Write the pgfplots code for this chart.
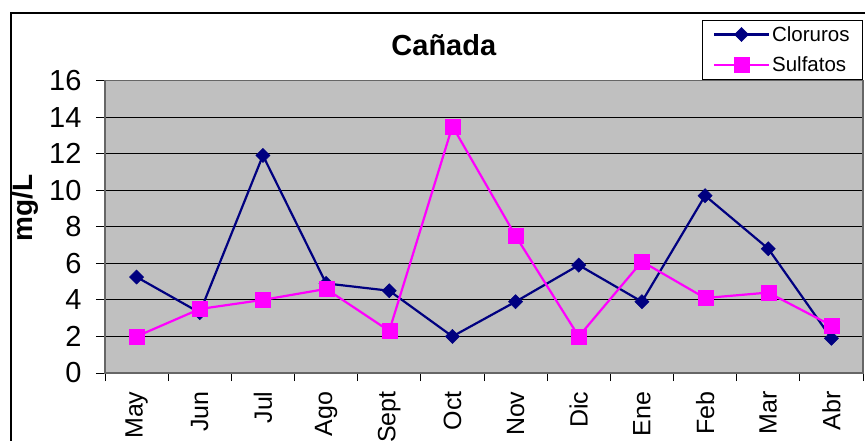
\documentclass[border=0pt]{standalone}
\usepackage{fontspec}
\setmainfont{Liberation Sans}
\usepackage{pgfplots}
\pgfplotsset{compat=1.18}
\definecolor{cnavy}{RGB}{0,0,128}
\definecolor{cmag}{RGB}{255,0,255}
\definecolor{plotbg}{RGB}{192,192,192}

\begin{document}
\begin{tikzpicture}
\useasboundingbox (-105bp,-68bp) rectangle (760bp,373bp);
% chart area frame
\draw[line width=1.2bp] (-94bp,-120bp) -- (-94bp,360bp) -- (820bp,360bp);
\begin{axis}[
  at={(0,0)}, anchor=south west,
  scale only axis, width=758bp, height=292.5bp,
  xmin=-0.5, xmax=11.5, ymin=0, ymax=16,
  axis background/.style={fill=plotbg},
  axis line style={draw=black!60, line width=1.2bp},
  xtick={0,...,11},
  xticklabels={May,Jun,Jul,Ago,Sept,Oct,Nov,Dic,Ene,Feb,Mar,Abr},
  minor xtick={-0.5,0.5,...,11.5},
  ytick={0,2,...,16},
  xtick pos=bottom, ytick pos=left,
  tick align=outside,
  major tick length=9bp,
  minor tick length=8bp,
  every major x tick/.append style={draw=none},
  tick style={black, line width=0.9bp},
  ymajorgrids,
  major grid style={black, line width=0.9bp},
  /pgf/number format/assume math mode=true,
  xticklabel shift=6bp,
  yticklabel shift=11bp,
  xticklabel style={rotate=90, anchor=east, font=\fontsize{25bp}{28bp}\selectfont},
  yticklabel style={font=\fontsize{29bp}{32bp}\selectfont},
  title={Cañada},
  title style={at={(0.447,1.100)}, anchor=center, font=\bfseries\fontsize{29bp}{33bp}\selectfont},
  ylabel={mg/L},
  ylabel style={at={(-0.105,0.564)}, anchor=center, font=\bfseries\fontsize{28bp}{31bp}\selectfont},
  legend style={at={(1,1.207)}, anchor=north east, draw=black, line width=0.8bp, fill=white,
    font=\fontsize{20.5bp}{24bp}\selectfont, row sep=10bp, inner xsep=11bp, inner ysep=4bp},
  legend cell align=left,
  legend image code/.code={\draw[mark repeat=2,mark phase=2] plot coordinates {(0bp,0bp) (27.5bp,0bp) (55bp,0bp)};},
]
\addplot[cnavy, line width=2.2bp, mark=square*, mark size=5bp, mark options={rotate=45, fill=cnavy, draw=cnavy, line width=0.5bp}]
  coordinates {(0,5.25) (1,3.3) (2,11.9) (3,4.9) (4,4.5) (5,2.0) (6,3.9) (7,5.9) (8,3.9) (9,9.7) (10,6.8) (11,1.9)};
\addlegendentry{Cloruros}
\addplot[cmag, line width=2.2bp, mark=square*, mark size=7.5bp, mark options={fill=cmag, draw=cmag, line width=0.1bp}]
  coordinates {(0,2.0) (1,3.5) (2,4.0) (3,4.6) (4,2.3) (5,13.5) (6,7.5) (7,2.0) (8,6.1) (9,4.1) (10,4.4) (11,2.6)};
\addlegendentry{Sulfatos}
\end{axis}
\end{tikzpicture}
\end{document}
